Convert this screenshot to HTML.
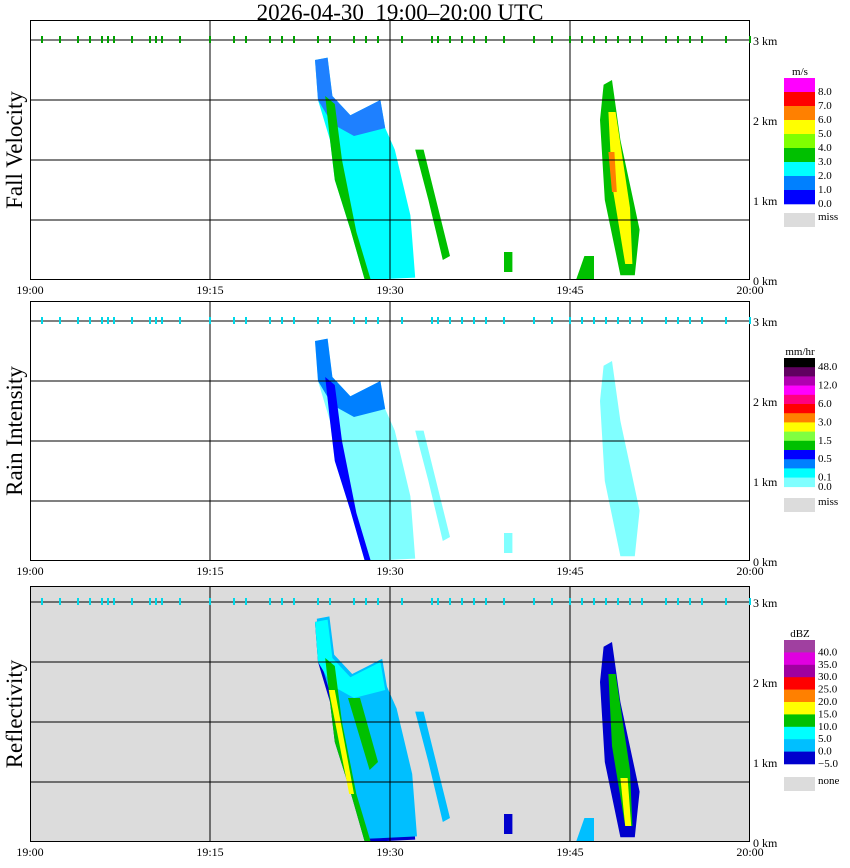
<!DOCTYPE html>
<html><head><meta charset="utf-8">
<style>
body{margin:0;background:#fff;width:850px;height:868px;overflow:hidden;font-family:"Liberation Serif",serif}
svg{position:absolute;left:0;top:0}
</style></head>
<body>
<svg id="c" width="850" height="868"></svg>
<script>
// data: times in minutes after 19:00, heights in km
const timeTicks=["19:00","19:15","19:30","19:45","20:00"];
const tickMinutes=[0,15,30,45,60];
const kmTicks=[0,1,2,3];
const titles=["Fall Velocity","Rain Intensity","Reflectivity"];
const topDotsMin=[1,2.5,4,5,6,6.5,7,8.5,10,10.5,11,12.5,15,17,18,20,21,22,24,25,27,28,29,31,33.5,34,35,36,37,38,39.5,42,43.5,45,46,47,48,49,50,51,53,54,55,56,58,60];
// echo polygons [min,km]
const mainShape=[[23.75,2.75],[24.8,2.78],[25.2,2.3],[26.7,2.06],[29.2,2.25],[29.6,1.9],[30.4,1.63],[31.7,0.81],[32.1,0.03],[27.9,0],[26.7,0.63],[25.4,1.25],[25,1.75],[24,2.25]];
const mainUpper=[[23.75,2.75],[24.8,2.78],[25.2,2.3],[26.7,2.06],[29.2,2.25],[29.6,1.9],[27,1.8],[25.2,1.95],[24,2.25]];
const leftStripe=[[24.6,2.3],[25.4,2.2],[26,1.5],[27.2,0.6],[28.4,0],[27.9,0],[26.7,0.63],[25.4,1.25],[25,1.75]];
const innerStripe=[[26.5,1.8],[27.5,1.8],[29,1],[28.3,0.9]];
const secondBand=[[32.1,1.63],[32.8,1.63],[35,0.3],[34.4,0.25],[33.2,1]];
const rightStorm=[[47.8,2.44],[48.5,2.5],[49.2,1.75],[50.8,0.63],[50.4,0.06],[49.2,0.06],[47.9,1],[47.5,2]];
const rightCore=[[48.2,2.1],[48.8,2.1],[50,0.9],[50.2,0.2],[49.6,0.2],[48.5,1.2]];
const rightRed=[[48.2,1.6],[48.7,1.6],[48.9,1.1],[48.5,1.1]];
const blobA=[[39.5,0.1],[40.2,0.1],[40.2,0.35],[39.5,0.35]];
const blobB=[[45.5,0],[47,0],[47,0.3],[46.2,0.3]];
const panelTop=[20,301,586];
const panelBottom=[280,561,842];
const layers=[
 [[mainShape,"#00ffff"],[mainUpper,"#1e80ff"],[leftStripe,"#00c000"],[innerStripe,"#00ffff"],[secondBand,"#00c000"],[rightStorm,"#00c000"],[rightCore,"#ffff00"],[rightRed,"#ff7f00"],[blobA,"#00c000"],[blobB,"#00c000"]],
 [[mainShape,"#80ffff"],[mainUpper,"#0080ff"],[leftStripe,"#0000ff"],[secondBand,"#80ffff"],[rightStorm,"#80ffff"],[blobA,"#80ffff"]],
 [[mainShape,"#0000cd"],[mainShape.map(p=>[p[0]+0.15,p[1]+0.04]),"#00bfff"],[mainUpper,"#00ffff"],[leftStripe,"#00c000"],[innerStripe,"#00c000"],[[[24.9,1.9],[25.4,1.9],[27,0.6],[26.6,0.6]],"#ffff00"],[secondBand,"#00bfff"],[rightStorm,"#0000cd"],[rightCore,"#00c000"],[[[49.2,0.8],[49.8,0.8],[50.1,0.2],[49.6,0.2]],"#ffff00"],[blobA,"#0000cd"],[blobB,"#00bfff"]]
];
const cbars=[
 {unit:"m/s",top:78,h:14,colors:["#ff00ff","#ff0000","#ff8000","#ffff00","#80ff00","#00c000","#00ffff","#0080ff","#0000ff"],labels:["8.0","7.0","6.0","5.0","4.0","3.0","2.0","1.0","0.0"],missY:213,miss:"miss"},
 {unit:"mm/hr",top:358,h:9.2,colors:["#000000","#600060","#b000b0","#ff00ff","#ff0080","#ff0000","#ff8000","#ffff00","#80ff40","#00c000","#0000ff","#0080ff","#00ffff","#80ffff"],labels:["48.0","","12.0","","6.0","","3.0","","1.5","","0.5","","0.1","0.0"],missY:498,miss:"miss"},
 {unit:"dBZ",top:640,h:12.4,colors:["#a040a0","#e000e0","#a000a0","#ff0000","#ff8000","#ffff00","#00c000","#00ffff","#00bfff","#0000cd"],labels:["40.0","35.0","30.0","25.0","20.0","15.0","10.0","5.0","0.0","\u22125.0"],missY:777,miss:"none"}
];
const NS="http://www.w3.org/2000/svg";
const svg=document.getElementById('c');
function mk(t,a,txt){const e=document.createElementNS(NS,t);for(const k in a)e.setAttribute(k,a[k]);if(txt!==undefined)e.textContent=txt;svg.appendChild(e);return e;}
const X=m=>30+m*12;
const L=30,R=750;
let t=mk('text',{x:400,y:20,'text-anchor':'middle','font-size':23,'font-family':'Liberation Serif, serif'},"2026-04-30  19:00\u201320:00 UTC");


t.setAttribute('xml:space','preserve');t.style.whiteSpace='pre';
for(let p=0;p<3;p++){
 const top=panelTop[p],bot=panelBottom[p];
 const Y=k=>bot-k*80;
 let bg=mk('rect',{x:L,y:top,width:R-L,height:bot-top,fill:p==2?'#dcdcdc':'#fff'});
 
 
 layers[p].forEach(([poly,col],i)=>{
  const e=mk('polygon',{points:poly.map(q=>X(q[0])+','+Y(q[1])).join(' '),fill:col});
  
  
 });
 // grid
 for(let g=0;g<4;g++){const yy=Y(3)+g*60;mk('line',{x1:L,x2:R,y1:yy,y2:yy,stroke:'#000','stroke-width':1});}
 tickMinutes.forEach(m=>{if(m>0&&m<60)mk('line',{x1:X(m),x2:X(m),y1:top,y2:bot,stroke:'#000'});});
 let fr=mk('rect',{x:L+0.5,y:top+0.5,width:R-L-1,height:bot-top-1,fill:'none',stroke:'#000'});
 
 
 topDotsMin.forEach(m=>{const d=mk('rect',{x:X(m)-1,y:Y(3)-4,width:2,height:7,fill:p==0?'#00a000':'#00d8e8'});
  
  });
 kmTicks.forEach(k=>{const e=mk('text',{x:753,y:Y(k)+5,'font-size':12},k+" km");
  
  });
 timeTicks.forEach((s,i)=>{const e=mk('text',{x:X(tickMinutes[i]),y:bot+14,'font-size':12,'text-anchor':'middle'},s);
  
  });
 const cy=(top+bot)/2;
 const yt=mk('text',{x:22,y:cy,'font-size':23,'text-anchor':'middle',transform:'rotate(-90 22 '+cy+')'},titles[p]);
 
 
 const cb=cbars[p];
 const u=mk('text',{x:800,y:cb.top-3,'font-size':11,'text-anchor':'middle'},cb.unit);
 
 
 cb.colors.forEach((c,i)=>{const r=mk('rect',{x:784,y:cb.top+i*cb.h,width:31,height:cb.h+0.3,fill:c});
  
  
  if(cb.labels[i]){const l=mk('text',{x:818,y:cb.top+(i+1)*cb.h+3,'font-size':11},cb.labels[i]);
   
   }});
 const ms=mk('rect',{x:784,y:cb.missY,width:31,height:14,fill:'#dcdcdc'});
 
 
 const ml=mk('text',{x:818,y:cb.missY+7,'font-size':11},cb.miss);
 
 
}
</script>
</body></html>
